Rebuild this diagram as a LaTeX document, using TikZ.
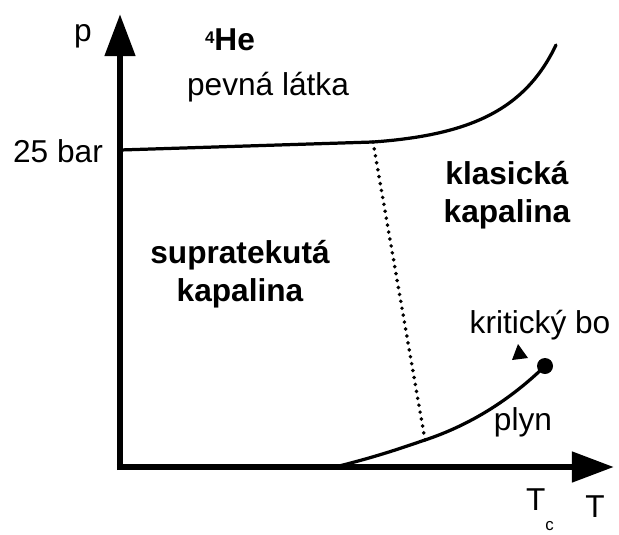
\documentclass[tikz,border=0pt]{standalone}
\usepackage{fontspec}
\setmainfont{Liberation Sans}
\usetikzlibrary{arrows.meta}

\tikzset{
  axisline/.style={line width=4.6pt, -{Triangle[length=30pt, width=21pt]}},
  curveline/.style={line width=2.3pt, line cap=round},
  lbl/.style={inner sep=0pt, font=\fontsize{22.5}{27}\selectfont},
  phase/.style={lbl, font=\fontsize{22.5}{27}\selectfont\bfseries, align=center}
}

\begin{document}
\begin{tikzpicture}[x=0.025cm, y=-0.025cm]
          \useasboundingbox (0,0) rectangle (619,534);
          % axes
          \coordinate (O) at (120,467);
          \coordinate (ptip) at (120,14);
          \coordinate (Ttip) at (614,467);
          \draw[axisline] ([yshift=-2.3pt]O) -- (ptip);
          \draw[axisline] ([xshift=-2.3pt]O) -- (Ttip);
          % curves
          \coordinate (melt0) at (120,150);
          \coordinate (lam1) at (373,142);
          \coordinate (melt1) at (556,45);
          \coordinate (vap0) at (335,467);
          \coordinate (lam0) at (425,440);
          \coordinate (crit) at (545,366);
          \draw[curveline] (melt0) -- (lam1) .. controls (470,135) and (525,110) .. (melt1);
          \draw[curveline] (vap0) .. controls (380,456) and (410,445) .. (lam0) .. controls (470,425) and (510,400) .. (crit);
          \draw[line width=2.8pt, line cap=round, dash pattern=on 0pt off 5pt] (lam1) -- (lam0);
          \fill (crit) circle (8);
          \fill (512,360) -- (528,358) -- (518,344) -- cycle;
          % labels
          \node[lbl] (plbl) at (83,36) {p};
          \node[lbl] (barlbl) at (58,151) {25 bar};
          \node[lbl, font=\fontsize{22.5}{27}\selectfont\bfseries] (helbl) at (230,40) {\raisebox{0.45ex}{\fontsize{12}{14}\selectfont 4}He};
          \node[lbl] (solid) at (268,87) {pevná látka};
          \node[phase] (classic) at (507,195) {klasická\\kapalina};
          \node[phase] (superfl) at (240,274) {supratekutá\\kapalina};
          \node[lbl] (critlbl) at (540,325) {kritický bo};
          \node[lbl] (gas) at (523,422) {plyn};
          \node[lbl] (Tclbl) at (540,510) {T\raisebox{-1.2ex}{\fontsize{12}{14}\selectfont c}};
          \node[lbl] (Tlbl) at (595,507) {T};
        \end{tikzpicture}
\end{document}
